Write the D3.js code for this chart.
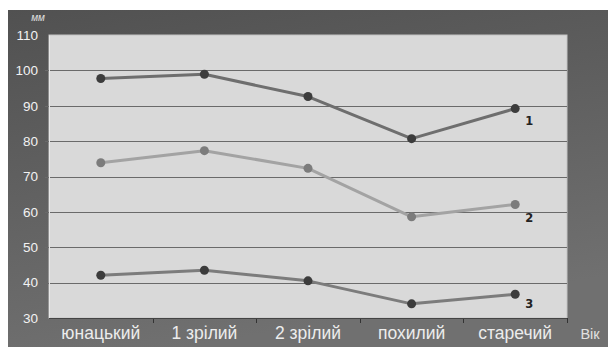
<!DOCTYPE html>
<html>
<head>
<meta charset="utf-8">
<script src="https://cdn.jsdelivr.net/npm/d3@7"></script>
<style>
  body { margin: 0; background: #fff; }
  svg { display: block; }
</style>
</head>
<body>
<script>
// data
const categories = ['юнацький', '1 зрілий', '2 зрілий', 'похилий', 'старечий'];
const series1 = [97.7, 98.9, 92.6, 80.7, 89.2];
const series2 = [73.9, 77.3, 72.3, 58.6, 62.1];
const series3 = [42.1, 43.5, 40.5, 34.0, 36.7];
const seriesNames = ['1', '2', '3'];
const yTicks = [30, 40, 50, 60, 70, 80, 90, 100, 110];

const W = 608, H = 347;
const plot = {left: 49, right: 567, top: 35, bottom: 318};

const svg = d3.select('body').append('svg')
  .attr('width', W).attr('height', H);

const defs = svg.append('defs');
const grad = defs.append('linearGradient')
  .attr('id', 'bg').attr('x1', 0).attr('y1', 0).attr('x2', 0.3).attr('y2', 1);
grad.append('stop').attr('offset', '0%').attr('stop-color', '#515151');
grad.append('stop').attr('offset', '100%').attr('stop-color', '#707070');

svg.append('rect')
  .attr('x', 8).attr('y', 10).attr('width', W - 8).attr('height', H - 10)
  .attr('fill', 'url(#bg)');

const x = d3.scaleBand().domain(categories).range([plot.left, plot.right]);
const y = d3.scaleLinear().domain([30, 110]).range([plot.bottom, plot.top]);

svg.append('rect')
  .attr('x', plot.left).attr('y', plot.top)
  .attr('width', plot.right - plot.left).attr('height', plot.bottom - plot.top)
  .attr('fill', '#d9d9d9')
  .attr('stroke', '#c4c4c4').attr('stroke-width', 1);

// grid lines
svg.append('g').selectAll('line')
  .data(yTicks.filter(d => d > 30 && d < 110))
  .enter().append('line')
  .attr('x1', plot.left - 4).attr('x2', plot.right)
  .attr('y1', d => Math.round(y(d)) + 0.5).attr('y2', d => Math.round(y(d)) + 0.5)
  .attr('stroke', '#6a6a6a').attr('stroke-width', 1);

// y axis labels
const yAxis = d3.axisLeft(y).tickValues(yTicks).tickSize(0).tickPadding(11);
const gy = svg.append('g').attr('transform', `translate(${plot.left},0)`).call(yAxis);
gy.select('.domain').attr('stroke', '#e8e8e8').attr('stroke-width', 1);
gy.selectAll('text')
  .attr('fill', '#f2f2f2')
  .style('font-family', 'Arial, "Liberation Sans", sans-serif')
  .style('font-size', '13.5px');

// x axis
const bounds = d3.range(1, categories.length + 1).map(i => plot.left + i * x.step());
svg.append('g').selectAll('line')
  .data(bounds).enter().append('line')
  .attr('x1', d => Math.round(d) + 0.5).attr('x2', d => Math.round(d) + 0.5)
  .attr('y1', plot.bottom).attr('y2', plot.bottom + 5)
  .attr('stroke', '#333').attr('stroke-width', 1);
svg.append('line')
  .attr('x1', plot.left).attr('x2', plot.right)
  .attr('y1', plot.bottom + 0.5).attr('y2', plot.bottom + 0.5)
  .attr('stroke', '#444');

svg.append('g').selectAll('text')
  .data(categories).enter().append('text')
  .attr('x', d => x(d) + x.bandwidth() / 2)
  .attr('y', 339)
  .attr('text-anchor', 'middle')
  .attr('fill', '#ececec')
  .style('font-family', 'Arial, "Liberation Sans", sans-serif')
  .style('font-size', '17.5px')
  .text(d => d);

svg.append('text')
  .attr('x', 590).attr('y', 339).attr('text-anchor', 'middle')
  .attr('fill', '#e0e0e0')
  .style('font-family', 'Arial, "Liberation Sans", sans-serif')
  .style('font-size', '14.5px')
  .text('Вік');

svg.append('text')
  .attr('x', 38).attr('y', 21).attr('text-anchor', 'middle')
  .attr('fill', '#e0e0e0')
  .style('font-family', 'Arial, "Liberation Sans", sans-serif')
  .style('font-size', '10px')
  .style('font-style', 'italic')
  .text('мм');

// series
const allSeries = [
  {values: series1, line: '#6e6e6e', dot: '#3c3c3c', name: seriesNames[0], dy: 16},
  {values: series2, line: '#a3a3a3', dot: '#7c7c7c', name: seriesNames[1], dy: 18},
  {values: series3, line: '#7c7c7c', dot: '#3c3c3c', name: seriesNames[2], dy: 14}
];

const line = d3.line()
  .x((d, i) => x(categories[i]) + x.bandwidth() / 2)
  .y(d => y(d));

allSeries.forEach(s => {
  svg.append('path')
    .datum(s.values)
    .attr('d', line)
    .attr('fill', 'none')
    .attr('stroke', s.line)
    .attr('stroke-width', 3)
    .attr('stroke-linejoin', 'round');
  svg.append('g').selectAll('circle')
    .data(s.values).enter().append('circle')
    .attr('cx', (d, i) => x(categories[i]) + x.bandwidth() / 2)
    .attr('cy', d => y(d))
    .attr('r', 4.5)
    .attr('fill', s.dot);
  const last = s.values.length - 1;
  svg.append('text')
    .attr('x', x(categories[last]) + x.bandwidth() / 2 + 10)
    .attr('y', y(s.values[last]) + s.dy)
    .attr('fill', '#222')
    .style('font-family', '"DejaVu Sans", sans-serif')
    .style('font-weight', 'bold')
    .style('font-size', '11.5px')
    .text(s.name);
});
</script>
</body>
</html>
